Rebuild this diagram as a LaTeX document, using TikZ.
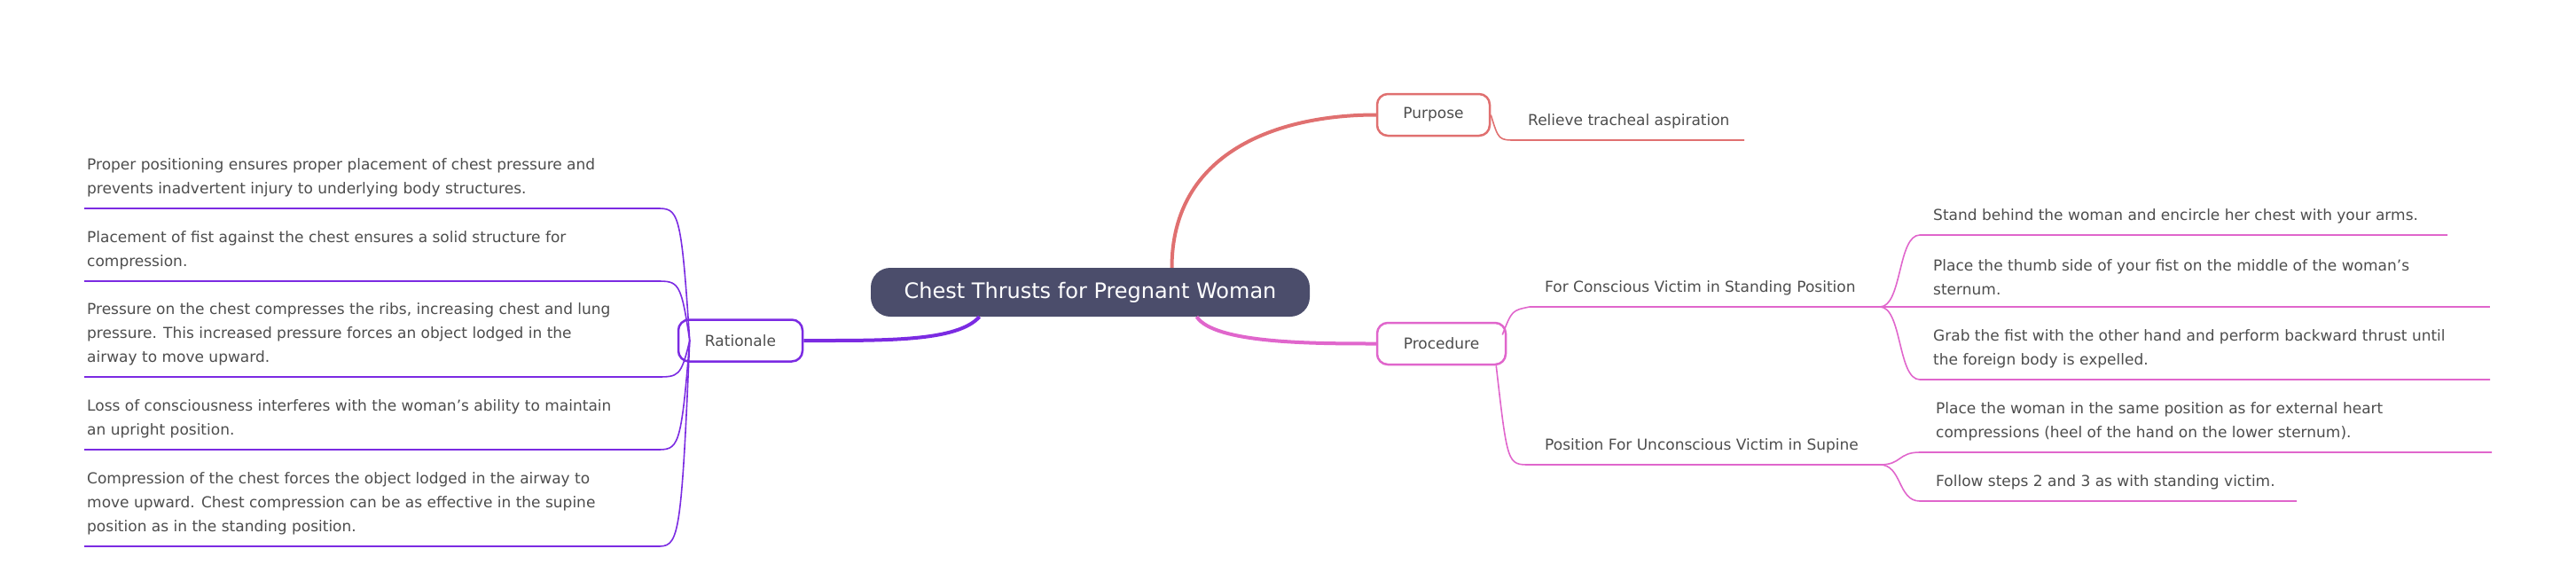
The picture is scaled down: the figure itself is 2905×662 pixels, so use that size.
\documentclass[tikz,border=0pt]{standalone}
\usepackage{fontspec}
\setmainfont{DejaVu Sans}
\usetikzlibrary{calc}
\definecolor{txt}{HTML}{4D4D4D}
\definecolor{cen}{HTML}{4B4D6B}
\definecolor{red1}{HTML}{E07070}
\definecolor{pink1}{HTML}{E066CC}
\definecolor{pur1}{HTML}{7B2BE2}
\begin{document}
\begin{tikzpicture}[x=1pt,y=-1pt,
  leaf/.style={inner sep=0pt,anchor=south west,align=left,text=txt,font=\fontsize{17}{27}\selectfont},
  box/.style={draw,line width=2.5pt,rounded corners=12pt,fill=white,text=txt,font=\fontsize{17}{20}\selectfont,minimum height=47pt,inner xsep=0pt},
  thin/.style={line width=1.6pt}]
\useasboundingbox (0,0) rectangle (2905,662);
\node[fill=cen,rounded corners=22pt,minimum width=495pt,minimum height=55pt,text=white,font=\fontsize{24}{28}\selectfont] (c) at (1229.5,329.5) {Chest Thrusts for Pregnant Woman};
\node[box,draw=red1,minimum width=127pt] (pur) at (1616.5,129.5) {Purpose};
\node[box,draw=pink1,minimum width=145pt] (pro) at (1625.5,387.5) {Procedure};
\node[box,draw=pur1,minimum width=140pt] (rat) at (835,384) {Rationale};
% main connectors
\draw[red1,line width=4pt] ($(c.north)+(92,0)$) .. controls ($(c.north)+(92,-130)$) and (1440,129.5) .. (pur.west);
\draw[pink1,line width=4pt] ($(c.south)+(120,0)$) .. controls ($(c.south)+(140,30)$) and (1480,387.5) .. (pro.west);
\draw[pur1,line width=4pt] ($(c.south)+(-125,0)$) .. controls ($(c.south)+(-150,28)$) and (1000,384) .. (rat.east);
% purpose leaf
\coordinate (p1a) at (1710,158); \coordinate (p1b) at (1967,158);
\node[leaf] (pt) at (1723,145) {Relieve tracheal aspiration};
\draw[red1,thin] (pur.east) .. controls (1690,158) .. (p1a) -- (p1b);
% procedure branches
\coordinate (b1a) at (1725,346); \coordinate (b1b) at (2120,346);
\coordinate (b2a) at (1725,524); \coordinate (b2b) at (2120,524);
\node[leaf] (bt1) at (1742,333) {For Conscious Victim in Standing Position};
\node[leaf] (bt2) at (1742,511) {Position For Unconscious Victim in Supine};
\draw[pink1,thin] ($(pro.east)+(-5,-10)$) .. controls (1705,350) .. (b1a) -- (b1b);
\draw[pink1,thin] ($(pro.south east)+(-12,0)$) .. controls (1700,524) .. (b2a) -- (b2b);
% conscious leaves
\foreach \y/\e [count=\i] in {265/2760,346/2808,428/2808}{
  \coordinate (r\i a) at (2165,\y); \coordinate (r\i b) at (\e,\y);
  \draw[pink1,thin] (b1b) .. controls (2145,346) and (2140,\y) .. (r\i a) -- (r\i b);}
\node[leaf] at (2180,252) {Stand behind the woman and encircle her chest with your arms.};
\node[leaf] at (2180,333) {Place the thumb side of your fist on the middle of the woman's\\sternum.};
\node[leaf] at (2180,415) {Grab the fist with the other hand and perform backward thrust until\\the foreign body is expelled.};
\foreach \y/\e [count=\i] in {510/2810,565/2590}{
  \coordinate (s\i a) at (2165,\y); \coordinate (s\i b) at (\e,\y);
  \draw[pink1,thin] (b2b) .. controls (2145,524) and (2140,\y) .. (s\i a) -- (s\i b);}
\node[leaf] at (2183,497) {Place the woman in the same position as for external heart\\compressions (heel of the hand on the lower sternum).};
\node[leaf] at (2183,552) {Follow steps 2 and 3 as with standing victim.};
% rationale leaves
\foreach \y [count=\i] in {235,317,425,507,616}{
  \coordinate (l\i a) at (95,\y); \coordinate (l\i b) at (740,\y);
  \draw[pur1,thin] ($(rat.west)+(14,0)$) .. controls (768,\y) and (765,\y) .. (l\i b) -- (l\i a);}
\node[leaf] at (98,222) {Proper positioning ensures proper placement of chest pressure and\\prevents inadvertent injury to underlying body structures.};
\node[leaf] at (98,304) {Placement of fist against the chest ensures a solid structure for\\compression.};
\node[leaf] at (98,412) {Pressure on the chest compresses the ribs, increasing chest and lung\\pressure. This increased pressure forces an object lodged in the\\airway to move upward.};
\node[leaf] at (98,494) {Loss of consciousness interferes with the woman's ability to maintain\\an upright position.};
\node[leaf] at (98,603) {Compression of the chest forces the object lodged in the airway to\\move upward. Chest compression can be as effective in the supine\\position as in the standing position.};
\end{tikzpicture}
\end{document}
